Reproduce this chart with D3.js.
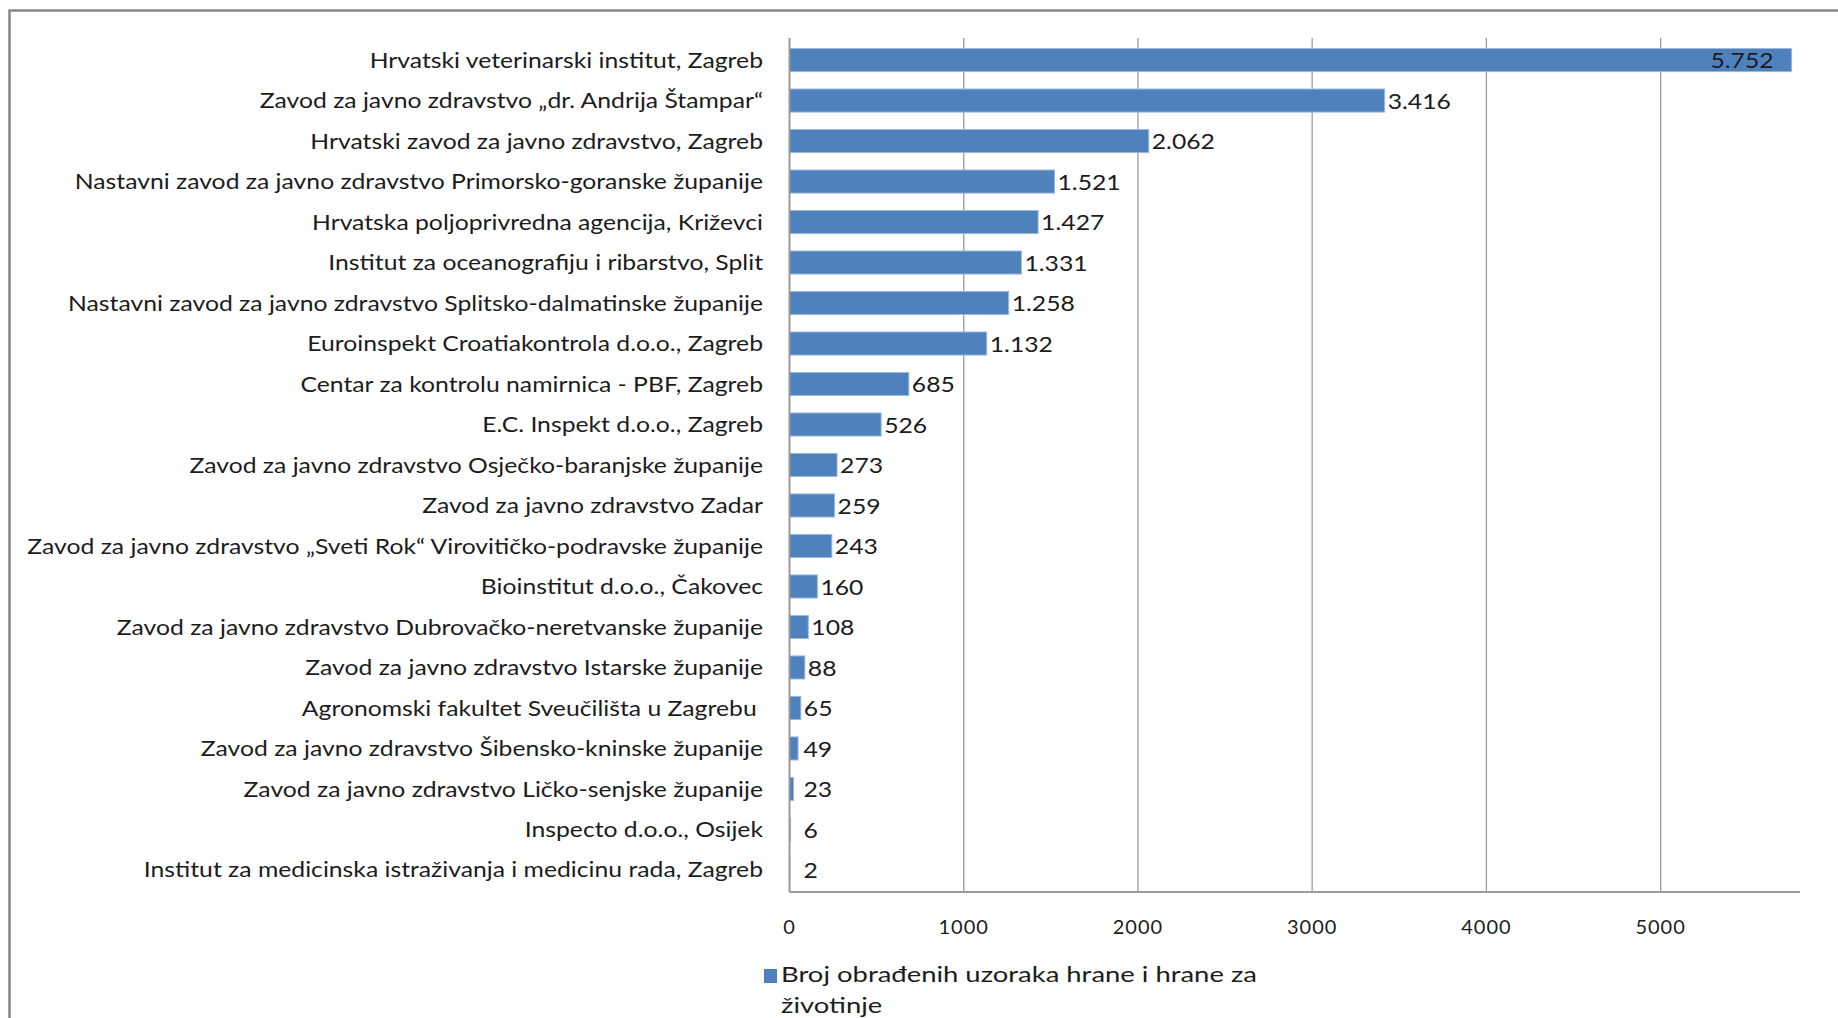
<!DOCTYPE html>
<html>
<head>
<meta charset="utf-8">
<script src="https://cdn.jsdelivr.net/npm/d3@7/dist/d3.min.js"></script>
<style>
  body { margin: 0; background: #fff; }
  svg text { font-family: Lato, "Open Sans", sans-serif; fill: #1c1c1c; white-space: pre; }
</style>
</head>
<body>
<svg id="chart" width="1838" height="1018"></svg>
<script>
// podaci
var ustanove = [
  "Hrvatski veterinarski institut, Zagreb",
  "Zavod za javno zdravstvo „dr. Andrija Štampar“",
  "Hrvatski zavod za javno zdravstvo, Zagreb",
  "Nastavni zavod za javno zdravstvo Primorsko-goranske županije",
  "Hrvatska poljoprivredna agencija, Križevci",
  "Institut za oceanografiju i ribarstvo, Split",
  "Nastavni zavod za javno zdravstvo Splitsko-dalmatinske županije",
  "Euroinspekt Croatiakontrola d.o.o., Zagreb",
  "Centar za kontrolu namirnica - PBF, Zagreb",
  "E.C. Inspekt d.o.o., Zagreb",
  "Zavod za javno zdravstvo Osječko-baranjske županije",
  "Zavod za javno zdravstvo Zadar",
  "Zavod za javno zdravstvo „Sveti Rok“ Virovitičko-podravske županije",
  "Bioinstitut d.o.o., Čakovec",
  "Zavod za javno zdravstvo Dubrovačko-neretvanske županije",
  "Zavod za javno zdravstvo Istarske županije",
  "Agronomski fakultet Sveučilišta u Zagrebu ",
  "Zavod za javno zdravstvo Šibensko-kninske županije",
  "Zavod za javno zdravstvo Ličko-senjske županije",
  "Inspecto d.o.o., Osijek",
  "Institut za medicinska istraživanja i medicinu rada, Zagreb"
];
var uzorci = [5752, 3416, 2062, 1521, 1427, 1331, 1258, 1132, 685, 526, 273, 259, 243, 160, 108, 88, 65, 49, 23, 6, 2];
var xTicks = [0, 1000, 2000, 3000, 4000, 5000];
var xMax = 5800;
var legendaRedovi = ["Broj obrađenih uzoraka hrane i hrane za", "životinje"];

var boja = "#4f81bd";

var svg = d3.select("#chart");

// okvir
svg.append("rect")
  .attr("x", 9.5).attr("y", 10.5)
  .attr("width", 1900).attr("height", 1100)
  .attr("fill", "none")
  .attr("stroke", "#868686")
  .attr("stroke-width", 2.5);

var plotL = 789.5, plotR = 1800, plotT = 38, plotB = 892;

var x = d3.scaleLinear().domain([0, xMax]).range([plotL, plotR]);
var y = d3.scaleBand().domain(ustanove).range([plotT, plotB])
  .paddingInner(0.43).paddingOuter(0.26);

// mreža
svg.append("g")
  .selectAll("line")
  .data(xTicks.slice(1))
  .enter().append("line")
  .attr("x1", function(d) { return x(d); })
  .attr("x2", function(d) { return x(d); })
  .attr("y1", plotT).attr("y2", plotB)
  .attr("stroke", "#9a9a9a")
  .attr("stroke-width", 1.3);

// stupci
svg.append("g")
  .selectAll("rect")
  .data(uzorci)
  .enter().append("rect")
  .attr("x", x(0))
  .attr("y", function(d, i) { return y(ustanove[i]); })
  .attr("width", function(d) { return x(d) - x(0); })
  .attr("height", y.bandwidth())
  .attr("fill", boja)
  .attr("stroke", "#9cb9dd")
  .attr("stroke-width", 1);

// osi
svg.append("line")
  .attr("x1", plotL).attr("x2", plotL).attr("y1", plotT).attr("y2", plotB)
  .attr("stroke", "#9a9a9a").attr("stroke-width", 2);
svg.append("line")
  .attr("x1", plotL).attr("x2", plotR).attr("y1", plotB).attr("y2", plotB)
  .attr("stroke", "#9a9a9a").attr("stroke-width", 2);

// nazivi ustanova
var nazivi = svg.append("g")
  .selectAll("text")
  .data(ustanove)
  .enter().append("text")
  .attr("text-anchor", "end")
  .attr("dy", "0.36em")
  .style("font-size", "21px")
  .text(function(d) { return d; });

var najduzi = d3.max(nazivi.nodes(), function(n) { return n.getComputedTextLength(); });
var k = 736 / najduzi;
nazivi.attr("transform", function(d) {
  return "translate(763," + (y(d) + y.bandwidth() / 2) + ") scale(" + k + ",1)";
});

// vrijednosti
var fmt = function(v) { return d3.format(",")(v).replace(/,/g, "."); };
var vrijednosti = svg.append("g")
  .selectAll("text")
  .data(uzorci)
  .enter().append("text")
  .attr("dy", "0.4em")
  .style("font-size", "21px")
  .text(function(d) { return fmt(d); });

vrijednosti.each(function(d, i) {
  var w = this.getComputedTextLength() * k;
  var kraj = x(d);
  var yy = y(ustanove[i]) + y.bandwidth() / 2;
  var xx = Math.max(kraj + 3, x(0) + 14);
  var anchor = "start";
  if (xx + w > plotR) { xx = kraj - 18; anchor = "end"; }
  d3.select(this)
    .attr("text-anchor", anchor)
    .attr("transform", "translate(" + xx + "," + yy + ") scale(" + k + ",1)");
});

// oznake osi x
svg.append("g")
  .selectAll("text")
  .data(xTicks)
  .enter().append("text")
  .attr("x", function(d) { return x(d); })
  .attr("y", 927)
  .attr("dy", "0.36em")
  .attr("text-anchor", "middle")
  .style("font-size", "20px")
  .style("letter-spacing", "1px")
  .text(function(d) { return d; });

// legenda
svg.append("rect")
  .attr("x", 764).attr("y", 969)
  .attr("width", 13).attr("height", 14)
  .attr("fill", boja);

var legenda = svg.append("g")
  .selectAll("text")
  .data(legendaRedovi)
  .enter().append("text")
  .style("font-size", "22px")
  .text(function(d) { return d; });

var kl = 476 / legenda.node().getComputedTextLength();
legenda.attr("transform", function(d, i) {
  return "translate(781," + (982 + i * 31) + ") scale(" + kl + ",1)";
});
</script>
</body>
</html>
